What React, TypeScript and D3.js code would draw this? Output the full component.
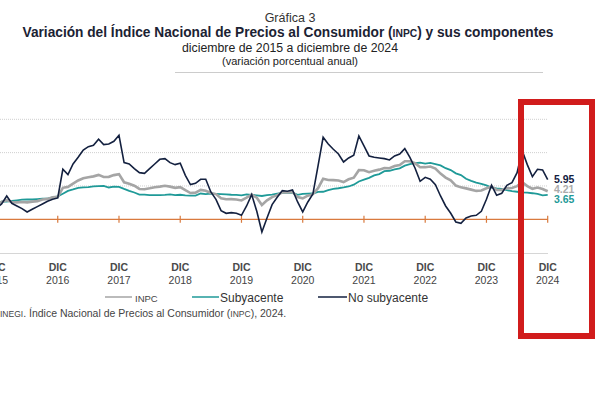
import React from "react";
import * as d3 from "d3";

// Monthly annual % change, Dec 2015 .. Dec 2024 (109 points)
const startYear = 2015;
const inpc = [
  2.13,
  2.61, 2.87, 2.6, 2.54, 2.6, 2.54, 2.65, 2.73, 2.97, 3.06, 3.31, 3.36,
  4.72, 4.86, 5.35, 5.82, 6.16, 6.31, 6.44, 6.66, 6.35, 6.37, 6.63, 6.77,
  5.55, 5.34, 5.04, 4.55, 4.51, 4.65, 4.81, 4.9, 5.02, 4.9, 4.72, 4.83,
  4.37, 3.94, 4.0, 4.41, 4.28, 3.95, 3.78, 3.16, 3.0, 3.02, 2.97, 2.83,
  3.24, 3.7, 3.25, 2.15, 2.84, 3.33, 3.62, 4.05, 4.01, 4.09, 3.33, 3.15,
  3.54, 3.76, 4.67, 6.08, 5.89, 5.88, 5.81, 5.59, 6.0, 6.24, 7.37, 7.36,
  7.07, 7.28, 7.45, 7.68, 7.65, 7.99, 8.15, 8.7, 8.7, 8.41, 7.8, 7.82,
  7.91, 7.62, 6.85, 6.25, 5.84, 5.06, 4.79, 4.64, 4.45, 4.26, 4.32, 4.66,
  4.88, 4.4, 4.42, 4.65, 4.69, 4.98, 5.57, 4.99, 4.58, 4.76, 4.55, 4.21,
];
const subyacente = [
  2.41,
  2.64, 2.66, 2.76, 2.85, 2.95, 2.97, 2.97, 3.03, 3.1, 3.09, 3.29, 3.44,
  3.84, 4.26, 4.48, 4.72, 4.78, 4.83, 4.94, 4.98, 5.0, 4.77, 4.9, 4.87,
  4.56, 4.27, 4.02, 3.71, 3.69, 3.62, 3.63, 3.63, 3.67, 3.73, 3.63, 3.68,
  3.6, 3.54, 3.55, 3.87, 3.77, 3.85, 3.82, 3.78, 3.75, 3.68, 3.65, 3.59,
  3.73, 3.66, 3.6, 3.5, 3.64, 3.71, 3.85, 3.97, 3.99, 3.98, 3.66, 3.8,
  3.84, 3.87, 4.12, 4.13, 4.37, 4.58, 4.66, 4.78, 4.92, 5.19, 5.67, 5.94,
  6.21, 6.59, 6.78, 7.22, 7.28, 7.49, 7.65, 8.05, 8.28, 8.42, 8.51, 8.35,
  8.45, 8.29, 8.09, 7.67, 7.39, 6.89, 6.64, 6.08, 5.76, 5.5, 5.3, 5.09,
  4.76, 4.64, 4.55, 4.37, 4.21, 4.13, 4.05, 4.0, 3.91, 3.8, 3.58, 3.65,
];
const noSubyacente = [
  1.7,
  2.3, 3.5, 2.4, 2.0, 1.6, 1.1, 1.5, 1.9, 2.3, 2.7, 3.0, 3.2,
  7.5, 6.7, 8.3, 9.3, 10.4, 10.9, 11.1, 12.0, 11.2, 11.3, 11.7, 12.6,
  8.5, 8.3, 7.6, 7.0, 6.9, 7.6, 8.3, 9.0, 9.1, 8.5, 8.2, 8.4,
  6.6, 5.2, 5.4, 6.0, 6.0, 4.1, 3.0, 1.3, 0.9, 1.0, 0.9, 0.6,
  2.0, 3.7, 1.2, -1.9, 0.2, 2.2, 3.3, 4.3, 4.2, 4.4, 2.6, 1.1,
  2.6, 3.8, 8.0, 12.3, 11.3, 10.5, 9.8, 8.6, 9.2, 9.6, 12.5, 11.0,
  9.5, 9.3, 9.2, 9.1, 8.9, 9.5, 9.8, 10.6, 9.3, 7.7, 5.7, 6.3,
  6.0, 5.2, 3.5, 2.0, 0.9, -0.4, -0.6, 0.2, 0.5, 0.6, 1.2, 3.0,
  5.1, 3.6, 3.9, 5.1, 5.5, 7.0, 10.3, 8.2, 6.4, 7.5, 7.4, 5.95,
];
const tickYears = [2015, 2016, 2017, 2018, 2019, 2020, 2021, 2022, 2023, 2024];
const gridValues = [5, 10, 15];
const endLabels = ["5.95", "4.21", "3.65"];

const C_INPC = "#a5a5a5";
const C_SUB = "#1f9a98";
const C_NOSUB = "#13203f";
const C_AXIS = "#d97a3e";
const FONT = "'Liberation Sans', Arial, sans-serif";

export default function App() {
  const x = d3.scaleLinear().domain([0, 108]).range([-3.5, 547.7]);
  const y = d3.scaleLinear().domain([0, 15]).range([219.3, 119.3]);
  const line = d3
    .line<number>()
    .x((_, i) => x(i))
    .y((d) => y(d))
    .curve(d3.curveLinear);

  const monthOfDec = (yr: number) => (yr - startYear) * 12;
  const last = inpc.length - 1;
  const labelBase = y(noSubyacente[last]) + 3;
  const labelColors = [C_NOSUB, "#ababab", C_SUB];

  return (
    <svg
      width={600}
      height={400}
      style={{ position: "absolute", left: 0, top: 0, background: "#fff" }}
      fontFamily={FONT}
    >
      <rect width={600} height={400} fill="#fff" />
      {/* Header */}
      <text x={290} y={21.5} textAnchor="middle" fontSize={12.5} fill="#333">
        Gráfica 3
      </text>
      <text
        x={288}
        y={37}
        textAnchor="middle"
        fontSize={14}
        fontWeight="bold"
        fill="#1b2233"
        textLength={531}
        lengthAdjust="spacingAndGlyphs"
      >
        {"Variación del Índice Nacional de Precios al Consumidor ("}
        <tspan fontSize={10.5}>INPC</tspan>
        {") y sus componentes"}
      </text>
      <text
        x={290}
        y={51.5}
        textAnchor="middle"
        fontSize={12}
        fill="#222"
        textLength={216}
        lengthAdjust="spacingAndGlyphs"
      >
        diciembre de 2015 a diciembre de 2024
      </text>
      <text
        x={290}
        y={64.5}
        textAnchor="middle"
        fontSize={10.5}
        fill="#222"
        textLength={136}
        lengthAdjust="spacingAndGlyphs"
      >
        (variación porcentual anual)
      </text>
      <line x1={175} x2={543} y1={72.5} y2={72.5} stroke="#cccccc" strokeWidth={1} />

      {/* Gridlines */}
      {gridValues.map((v) => (
        <line
          key={v}
          x1={0}
          x2={548}
          y1={y(v)}
          y2={y(v)}
          stroke="#cfcfcf"
          strokeWidth={1}
          strokeDasharray="1,1"
        />
      ))}

      {/* Axis at 0 */}
      <line x1={0} x2={548} y1={y(0)} y2={y(0)} stroke={C_AXIS} strokeWidth={1.3} />
      {tickYears.map((yr) => (
        <line
          key={yr}
          x1={x(monthOfDec(yr))}
          x2={x(monthOfDec(yr))}
          y1={y(0) - 3.5}
          y2={y(0) + 3.5}
          stroke={C_AXIS}
          strokeWidth={1.2}
        />
      ))}

      {/* Series */}
      <path d={line(subyacente) || ""} fill="none" stroke={C_SUB} strokeWidth={1.8} />
      <path d={line(inpc) || ""} fill="none" stroke={C_INPC} strokeWidth={2.6} />
      <path d={line(noSubyacente) || ""} fill="none" stroke={C_NOSUB} strokeWidth={1.6} />

      {/* End labels */}
      {endLabels.map((t, i) => (
        <text
          key={t}
          x={554}
          y={labelBase + i * 10}
          fontSize={10.5}
          fontWeight="bold"
          fill={labelColors[i]}
        >
          {t}
        </text>
      ))}

      {/* Bottom separator */}
      <line x1={0} x2={548} y1={253.5} y2={253.5} stroke="#d6d6d6" strokeWidth={1} />

      {/* X labels */}
      {tickYears.map((yr) => (
        <g key={yr} transform={`translate(${x(monthOfDec(yr))},0)`}>
          <text y={271} textAnchor="middle" fontSize={10.5} fontWeight="bold" fill="#4a4a4a">
            DIC
          </text>
          <text y={284} textAnchor="middle" fontSize={10.5} fill="#444">
            {yr}
          </text>
        </g>
      ))}

      {/* Legend */}
      <line x1={105} x2={132} y1={297} y2={297} stroke={C_INPC} strokeWidth={1.5} />
      <text x={135} y={302} fontSize={9.5} fill="#444">
        INPC
      </text>
      <line x1={192} x2={219} y1={297} y2={297} stroke={C_SUB} strokeWidth={1.5} />
      <text x={220} y={301.5} fontSize={12} fill="#333">
        Subyacente
      </text>
      <line x1={318} x2={347} y1={297} y2={297} stroke={C_NOSUB} strokeWidth={1.5} />
      <text x={348} y={301.5} fontSize={12} fill="#333">
        No subyacente
      </text>

      {/* Source */}
      <text x={0} y={316.5} fontSize={10.5} fill="#444">
        <tspan fontSize={8.5}>INEGI</tspan>
        {". Índice Nacional de Precios al Consumidor ("}
        <tspan fontSize={8.5}>INPC</tspan>
        {"), 2024."}
      </text>

      {/* Red highlight box */}
      <rect
        x={521}
        y={102}
        width={71}
        height={234}
        fill="none"
        stroke="#d11c1c"
        strokeWidth={6}
      />
    </svg>
  );
}
